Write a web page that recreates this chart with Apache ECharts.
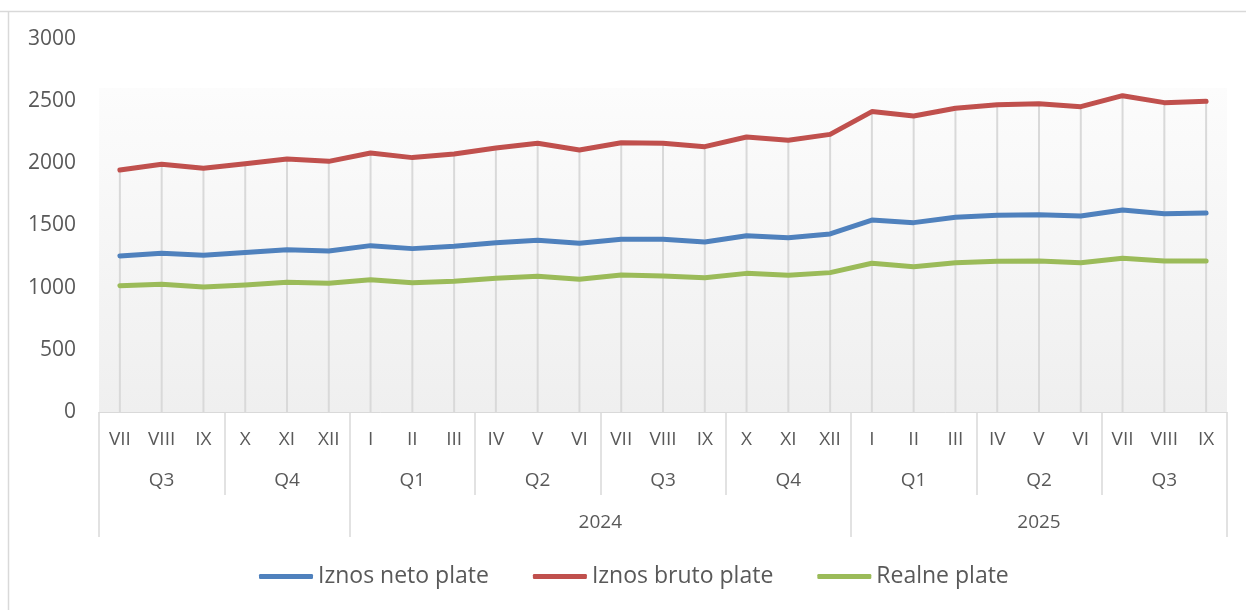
<!DOCTYPE html>
<html>
<head>
<meta charset="utf-8">
<script src="https://cdn.jsdelivr.net/npm/echarts@6/dist/echarts.min.js"></script>
<style>
  html, body { margin: 0; padding: 0; background: #fff; }
  #main { width: 1246px; height: 610px; }
</style>
</head>
<body>
<div id="main"></div>
<script>
var months = ["VII", "VIII", "IX", "X", "XI", "XII", "I", "II", "III", "IV", "V", "VI", "VII", "VIII", "IX",
  "X", "XI", "XII", "I", "II", "III", "IV", "V", "VI", "VII", "VIII", "IX"];
var quarters = ["Q3", "Q4", "Q1", "Q2", "Q3", "Q4", "Q1", "Q2", "Q3"];
var years = ["", "2024", "2025"];
var yearMonths = [6, 12, 9];
var yTicks = [0, 500, 1000, 1500, 2000, 2500, 3000];

var neto = [1255, 1276, 1260, 1282, 1305, 1295, 1338, 1314, 1333, 1362, 1381, 1357, 1389, 1389, 1367,
  1418, 1402, 1432, 1544, 1523, 1566, 1582, 1587, 1576, 1625, 1595, 1600];
var bruto = [1946, 1992, 1960, 1997, 2035, 2016, 2083, 2046, 2075, 2123, 2161, 2107, 2166, 2161, 2134,
  2212, 2185, 2233, 2416, 2381, 2443, 2472, 2480, 2456, 2544, 2488, 2499];
var realne = [1016, 1027, 1005, 1021, 1043, 1035, 1064, 1040, 1051, 1075, 1091, 1067, 1102, 1094, 1080,
  1115, 1099, 1121, 1196, 1169, 1201, 1212, 1214, 1201, 1236, 1214, 1214];

// year level: half-month steps so a label can sit in the middle of its span
var yearSlots = [];
var yearBounds = [0];
var pos = 0;
for (var i = 0; i < years.length; i++) {
  for (var k = 0; k < yearMonths[i] * 2; k++) yearSlots.push(k === yearMonths[i] ? years[i] : "");
  pos += yearMonths[i] * 2;
  yearBounds.push(pos);
}
yearSlots.push("");

var font = "Open Sans";
var grey = "#595959";
var lineGrey = "#d9d9d9";

var chart = echarts.init(document.getElementById("main"));

var option = {
  animation: false,
  textStyle: { fontFamily: font },
  graphic: [
    { type: "line", shape: { x1: 0, y1: 11.5, x2: 1246, y2: 11.5 }, style: { stroke: lineGrey, lineWidth: 1.5 } },
    { type: "line", shape: { x1: 8.5, y1: 11, x2: 8.5, y2: 610 }, style: { stroke: lineGrey, lineWidth: 1.5 } }
  ],
  grid: {
    left: 99, right: 19, top: 39, bottom: 198,
    show: true, borderWidth: 0,
    backgroundColor: {
      type: "linear", x: 0, y: 0, x2: 0, y2: 1,
      colorStops: [
        { offset: 0, color: "#ffffff" },
        { offset: 0.13, color: "#ffffff" },
        { offset: 0.132, color: "#fcfcfc" },
        { offset: 1, color: "#efefef" }
      ]
    }
  },
  legend: {
    data: ["Iznos neto plate", "Iznos bruto plate", "Realne plate"],
    left: 254, top: 560,
    icon: "roundRect",
    itemWidth: 54, itemHeight: 5, itemGap: 44,
    textStyle: { fontSize: 23, color: grey, fontFamily: font }
  },
  xAxis: [
    {
      type: "category", data: months, position: "bottom",
      axisLine: { lineStyle: { color: lineGrey, width: 1 } },
      axisTick: { show: false },
      axisLabel: { interval: 0, fontSize: 19, color: grey, margin: 18 }
    },
    {
      type: "category", data: quarters, position: "bottom", offset: 0,
      axisLine: { show: false },
      axisTick: { show: true, length: 83, lineStyle: { color: lineGrey, width: 1.5 } },
      axisLabel: { interval: 0, fontSize: 19, color: grey, margin: 59 }
    },
    {
      type: "category", data: yearSlots, position: "bottom", offset: 0, boundaryGap: false,
      axisLine: { show: false },
      axisTick: {
        show: true, length: 125, lineStyle: { color: lineGrey, width: 1.5 },
        interval: function (idx) { return yearBounds.indexOf(idx) >= 0; }
      },
      axisLabel: { interval: 0, fontSize: 19, color: grey, margin: 101 }
    }
  ],
  yAxis: {
    type: "value", min: yTicks[0], max: yTicks[yTicks.length - 1], interval: 500,
    axisLine: { show: false }, axisTick: { show: false }, splitLine: { show: false },
    axisLabel: { fontSize: 21, color: grey, margin: 23, formatter: function (v) { return String(v); } }
  },
  series: [
    {
      name: "drop", type: "bar", data: bruto, barWidth: 2, silent: true, z: 1,
      itemStyle: { color: lineGrey }
    },
    {
      name: "Iznos neto plate", type: "line", data: neto, symbol: "none", z: 3,
      itemStyle: { color: "#4f81bd" },
      lineStyle: { color: "#4f81bd", width: 5, cap: "round", join: "round" }
    },
    {
      name: "Iznos bruto plate", type: "line", data: bruto, symbol: "none", z: 3,
      itemStyle: { color: "#c0504d" },
      lineStyle: { color: "#c0504d", width: 5, cap: "round", join: "round" }
    },
    {
      name: "Realne plate", type: "line", data: realne, symbol: "none", z: 3,
      itemStyle: { color: "#9bbb59" },
      lineStyle: { color: "#9bbb59", width: 5, cap: "round", join: "round" }
    }
  ]
};

chart.setOption(option);
</script>
</body>
</html>
